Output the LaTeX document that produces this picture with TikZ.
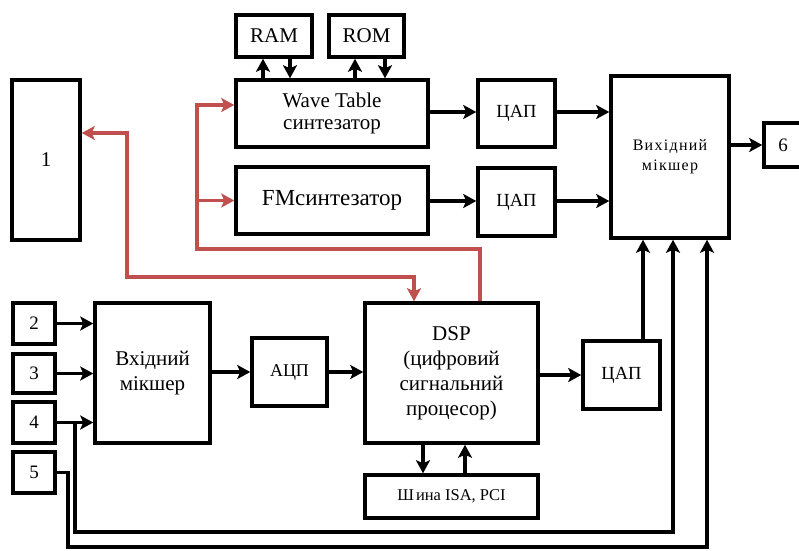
\documentclass[tikz,border=0pt]{standalone}
\usepackage{fontspec}
\setmainfont{Liberation Serif}
\usetikzlibrary{arrows.meta}
\definecolor{redl}{HTML}{C0504D}
\begin{document}
\begin{tikzpicture}[x=1pt,y=-1pt,
  blk/.style={draw, line width=3.5pt, inner sep=0pt, align=center, font=\fontsize{21}{25}\selectfont},
  tip/.style={-{Stealth[length=13pt,width=14pt,inset=3pt]}},
  arr/.style={line width=3.8pt, tip},
  rarr/.style={draw=redl, line width=3.5pt, tip},
  rarr2/.style={draw=redl, line width=3.5pt, {Stealth[length=13pt,width=14pt,inset=3pt]}-{Stealth[length=13pt,width=14pt,inset=3pt]}}]
\useasboundingbox (0,0) rectangle (799,550);
% blocks
\node[blk, minimum width=68pt, minimum height=160pt] (one) at (46,160) {1};
\node[blk, minimum width=76pt, minimum height=42pt] (ram) at (274,36) {RAM};
\node[blk, minimum width=75pt, minimum height=42pt] (rom) at (366.5,36) {ROM};
\node[blk, minimum width=192pt, minimum height=67pt, font=\fontsize{21}{22}\selectfont] (wt) at (332,113.5) {Wave Table\\синтезатор};
\node[blk, minimum width=192pt, minimum height=67pt, font=\fontsize{23}{25}\selectfont] (fm) at (332,200.5) {FMсинтезатор};
\node[blk, minimum width=77pt, minimum height=67pt, font=\fontsize{18.5}{20}\selectfont] (dac1) at (516.5,113.5) {ЦАП};
\node[blk, minimum width=77pt, minimum height=68pt, font=\fontsize{18.5}{20}\selectfont] (dac2) at (516.5,202) {ЦАП};
\node[blk, minimum width=118pt, minimum height=162pt, font=\fontsize{16}{20}\selectfont\addfontfeature{LetterSpace=8}] (omix) at (670,157) {Вихідний\\мікшер};
\node[blk, minimum width=38pt, minimum height=44pt, font=\fontsize{19}{20}\selectfont] (six) at (783,145) {6};
\node[blk, minimum width=42pt, minimum height=41pt, font=\fontsize{19}{20}\selectfont] (in2) at (34,323.5) {2};
\node[blk, minimum width=42pt, minimum height=39pt, font=\fontsize{19}{20}\selectfont] (in3) at (34,373.5) {3};
\node[blk, minimum width=42pt, minimum height=41pt, font=\fontsize{19}{20}\selectfont] (in4) at (34,422.5) {4};
\node[blk, minimum width=42pt, minimum height=41pt, font=\fontsize{19}{20}\selectfont] (in5) at (34,472.5) {5};
\node[blk, minimum width=115pt, minimum height=140pt] (imix) at (152.5,373) {Вхідний\\мікшер};
\node[blk, minimum width=75pt, minimum height=68pt, font=\fontsize{18}{20}\selectfont] (adc) at (289.5,372) {АЦП};
\node[blk, minimum width=173pt, minimum height=140pt] (dsp) at (451.5,373) {DSP\\(цифровий\\сигнальний\\процесор)};
\node[blk, minimum width=173pt, minimum height=43pt, font=\fontsize{16.5}{18}\selectfont] (bus) at (451.5,496.5) {Ш\kern2ptина ISA, PCI};
\node[blk, minimum width=77pt, minimum height=68pt, font=\fontsize{18.5}{20}\selectfont] (dac3) at (621.5,375) {ЦАП};
% helper coordinates
\coordinate (c1) at (263,0); \coordinate (c2) at (290,0);
\coordinate (c3) at (355,0); \coordinate (c4) at (385,0);
\coordinate (ya) at (0,112); \coordinate (yb) at (0,201); \coordinate (yc) at (0,145);
\coordinate (xd) at (643,0); \coordinate (xe) at (423,0); \coordinate (xf) at (465,0);
\coordinate (j4) at (75,0); \coordinate (yg) at (0,532); \coordinate (xh) at (673,0);
\coordinate (xi) at (68,0); \coordinate (yh) at (0,547); \coordinate (xj) at (707,0);
\coordinate (xr1) at (197,0); \coordinate (yr1) at (0,249); \coordinate (xr2) at (480,0); \coordinate (yr2) at (0,105);
\coordinate (yr3) at (0,133); \coordinate (xr3) at (127,0); \coordinate (yr4) at (0,277); \coordinate (xr4) at (414,0);
% RAM / ROM
\draw[arr] (wt.north -| c1) -- (ram.south -| c1);
\draw[arr] (ram.south -| c2) -- (wt.north -| c2);
\draw[arr] (wt.north -| c3) -- (rom.south -| c3);
\draw[arr] (rom.south -| c4) -- (wt.north -| c4);
% synth to DAC to mixer
\draw[arr] (wt.east |- ya) -- (dac1.west |- ya);
\draw[arr] (dac1.east |- ya) -- (omix.west |- ya);
\draw[arr] (fm.east |- yb) -- (dac2.west |- yb);
\draw[arr] (dac2.east |- yb) -- (omix.west |- yb);
\draw[arr] (omix.east |- yc) -- (six.west |- yc);
% inputs
\draw[arr] (in2.east) -- (imix.west |- in2.east);
\draw[arr] (in3.east) -- (imix.west |- in3.east);
\draw[arr] (in4.east) -- (imix.west |- in4.east);
\draw[arr] (imix.east |- adc.west) -- (adc.west);
\draw[arr] (adc.east) -- (dsp.west |- adc.east);
\draw[arr] (dsp.east |- dac3.west) -- (dac3.west);
\draw[arr] (dac3.north -| xd) -- (omix.south -| xd);
\draw[arr] (dsp.south -| xe) -- (bus.north -| xe);
\draw[arr] (bus.north -| xf) -- (dsp.south -| xf);
\draw[arr] (in4.east -| j4) |- (xh |- yg) -- (omix.south -| xh);
\draw[arr] (in5.east) -| (xi |- yh) -| (omix.south -| xj);
% red
\draw[rarr] (dsp.north -| xr2) |- (xr1 |- yr1) |- (wt.west |- yr2);
\draw[rarr] (xr1 |- fm.west) -- (fm.west);
\draw[rarr2] (one.east |- yr3) -| (xr3 |- yr4) -| (dsp.north -| xr4);
\end{tikzpicture}
\end{document}
